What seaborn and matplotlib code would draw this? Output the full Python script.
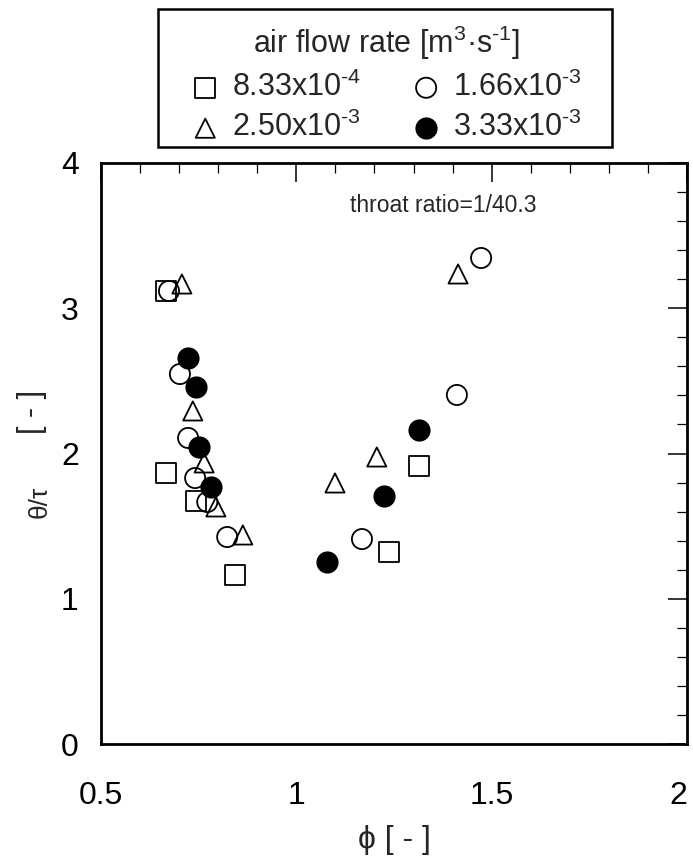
import matplotlib
matplotlib.use("Agg")
import matplotlib.pyplot as plt
import seaborn as sns
import pandas as pd
from matplotlib.ticker import MultipleLocator
from matplotlib.patches import Rectangle

sns.set_style("white")
plt.rcParams['font.family'] = ['Liberation Sans', 'DejaVu Sans']
plt.rcParams['mathtext.fontset'] = 'custom'
plt.rcParams['mathtext.rm'] = 'Liberation Sans'
plt.rcParams['mathtext.it'] = 'Liberation Sans:italic'
plt.rcParams['mathtext.default'] = 'regular'

# ---- data ----
sq_x = [0.666, 0.666, 0.743, 0.843, 1.237, 1.314]
sq_y = [3.119, 1.866, 1.673, 1.163, 1.322, 1.914]

oc_x = [0.674, 0.702, 0.723, 0.741, 0.772, 0.823, 1.168, 1.411, 1.473]
oc_y = [3.119, 2.547, 2.107, 1.831, 1.666, 1.425, 1.411, 2.403, 3.346]

tr_x = [0.707, 0.735, 0.764, 0.794, 0.863, 1.099, 1.206, 1.414]
tr_y = [3.167, 2.293, 1.935, 1.632, 1.439, 1.797, 1.976, 3.236]

fc_x = [0.723, 0.743, 0.751, 0.782, 1.078, 1.224, 1.314]
fc_y = [2.657, 2.458, 2.045, 1.769, 1.253, 1.707, 2.162]

labels = ["8.33x10$^{\u2010 4}$", "1.66x10$^{\u2010 3}$",
          "2.50x10$^{\u2010 3}$", "3.33x10$^{\u2010 3}$"]
legend_title = "air flow rate [m$^{3}$·s$^{\u2010 1}$]"
x_ticks = [0.5, 1, 1.5, 2]
x_ticklabels = ["0.5", "1", "1.5", "2"]
y_ticks = [0, 1, 2, 3, 4]

fig = plt.figure(figsize=(6.93, 8.56), dpi=100)
W, H = 693, 856
ax = fig.add_axes([101 / W, 1 - 744 / H, (687 - 101) / W, (744 - 163) / H])

lw = 1.3
sns.scatterplot(data=pd.DataFrame({"x": sq_x, "y": sq_y}), x="x", y="y", ax=ax,
                marker="s", s=200, color="none", edgecolor="black", linewidth=lw,
                label=labels[0])
sns.scatterplot(data=pd.DataFrame({"x": oc_x, "y": oc_y}), x="x", y="y", ax=ax,
                marker="o", s=210, color="none", edgecolor="black", linewidth=lw,
                label=labels[1])
sns.scatterplot(data=pd.DataFrame({"x": tr_x, "y": tr_y}), x="x", y="y", ax=ax,
                marker="^", s=190, color="none", edgecolor="black", linewidth=lw,
                label=labels[2])
sns.scatterplot(data=pd.DataFrame({"x": fc_x, "y": fc_y}), x="x", y="y", ax=ax,
                marker="o", s=215, color="black", edgecolor="black", linewidth=lw,
                label=labels[3])

handles, labs = ax.get_legend_handles_labels()
if ax.get_legend() is not None:
    ax.get_legend().remove()
order = [0, 2, 1, 3]
leg = fig.legend([handles[i] for i in order], [labs[i] for i in order],
                 title=legend_title, ncol=2, loc="upper left",
                 bbox_to_anchor=(190 / W, 1 - 24 / H), frameon=False,
                 fontsize=22, title_fontsize=22,
                 borderpad=0, handletextpad=0.38, columnspacing=1.62,
                 labelspacing=0.3, handlelength=1.0, borderaxespad=0)
fig.patches.append(Rectangle((158 / W, 1 - 147 / H), (612 - 158) / W, (147 - 9) / H,
                             transform=fig.transFigure, fill=False,
                             edgecolor="black", linewidth=1.8))

ax.set_xlim(0.5, 2)
ax.set_ylim(0, 4)
ax.set_xticks(x_ticks)
ax.set_xticklabels(x_ticklabels)
ax.set_yticks(y_ticks)
ax.xaxis.set_minor_locator(MultipleLocator(0.1))
ax.yaxis.set_minor_locator(MultipleLocator(0.2))
ax.tick_params(which="both", direction="in", top=True, right=True, colors="black")
ax.tick_params(which="major", length=14, width=1.1, labelsize=23)
ax.tick_params(which="minor", length=7, width=0.9)
ax.tick_params(axis="x", pad=27)
ax.tick_params(axis="y", pad=16)
ax.get_xticklabels()[-1].set_horizontalalignment("right")
for sp in ax.spines.values():
    sp.set_linewidth(2.0)
    sp.set_color("black")

ax.set_xlabel("\u03d5 [ - ]", fontsize=23, labelpad=10)
ax.set_ylabel("")
fig.text(40 / W, 1 - 502 / H, "θ/τ", rotation=90, fontsize=19, ha="center", va="center")
fig.text(32 / W, 1 - 412 / H, "[ - ]", rotation=90, fontsize=22, ha="center", va="center")

ax.text(1.137, 3.71, "throat ratio=1/40.3", fontsize=16.5, ha="left", va="center")

fig.savefig("out.png", dpi=100)
